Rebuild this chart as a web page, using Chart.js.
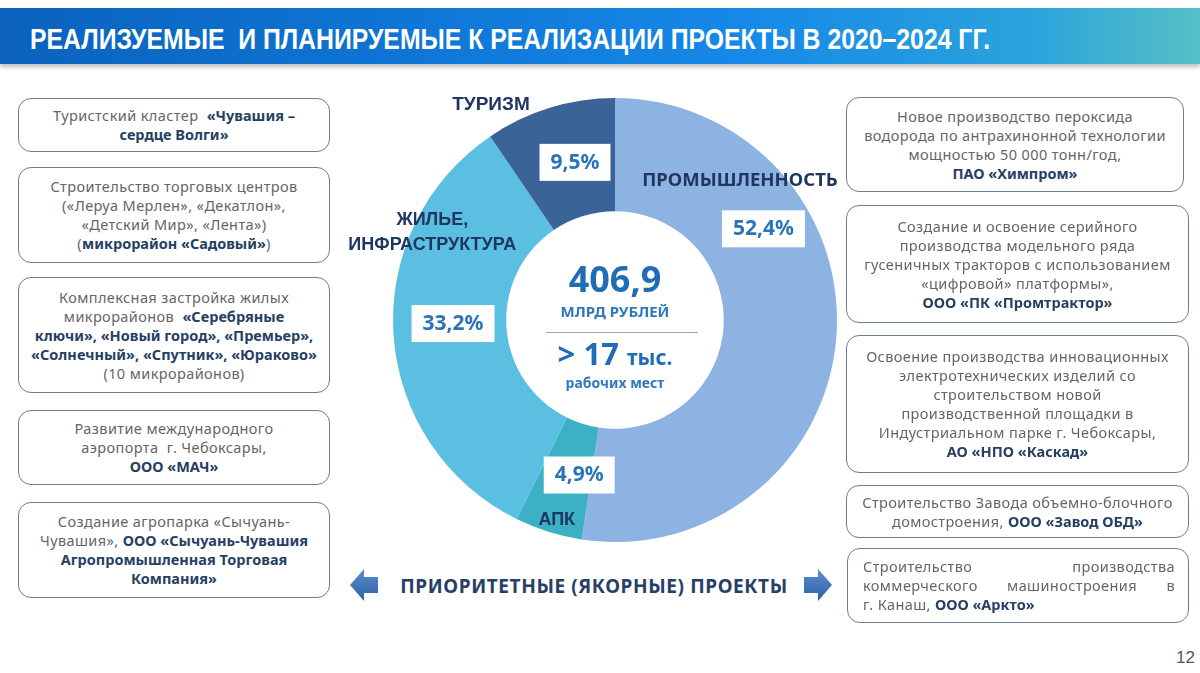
<!DOCTYPE html>
<html lang="ru">
<head>
<meta charset="utf-8">
<script src="https://cdn.jsdelivr.net/npm/chart.js@4.4.0/dist/chart.umd.min.js"></script>
<style>
  body { margin: 0; width: 1200px; height: 673px; background: #fff; position: relative; overflow: hidden; font-family: "Noto Sans", sans-serif; }
  #header { position: absolute; left: 0; top: 8px; width: 1200px; height: 56px;
    background: linear-gradient(90deg, #0a62bd 0%, #0f76d6 35%, #1689e8 62%, #2ba3dc 86%, #55c0c6 100%);
    box-shadow: 0 3px 4px rgba(0,0,0,0.25); }
  #title { position: absolute; left: 30px; top: 24px; color: #fff; font: bold 30px/30px "Liberation Sans", Arial, sans-serif;
    white-space: nowrap; transform-origin: left center; }
  .box { position: absolute; box-sizing: border-box; border: 1.5px solid #6e7c90; border-radius: 13px;
    display: flex; align-items: center; justify-content: center; text-align: center;
    color: #656565; font-size: 14.5px; line-height: 19px; letter-spacing: 0.4px; white-space: nowrap; background: #fff; z-index: 2; }
  .box b { color: #263f63; letter-spacing: 0; }
  .just { display: block; text-align: justify; text-align-last: justify; }
  #chartWrap { position: absolute; left: 335px; top: 70px; width: 560px; height: 500px; z-index: 1; }
  .ctr { position: absolute; left: 515px; width: 200px; text-align: center; font-weight: bold; white-space: nowrap; z-index: 3; }
  #sep { position: absolute; left: 546px; top: 332px; width: 152px; height: 1px; background: #9aa5b1; z-index: 3; }
  #bottom { position: absolute; left: 384px; top: 575px; width: 420px; text-align: center; font: bold 19px/22px "Noto Sans", sans-serif; letter-spacing: 0.6px; color: #283f66; white-space: nowrap; }
  .arrow { position: absolute; top: 569px; width: 28px; height: 32px; }
  #page { position: absolute; left: 1176px; top: 648px; font: 17px "Liberation Sans", Arial, sans-serif; color: #555; }
</style>
</head>
<body>
<div id="header"></div>
<div id="title">РЕАЛИЗУЕМЫЕ&nbsp; И ПЛАНИРУЕМЫЕ К РЕАЛИЗАЦИИ ПРОЕКТЫ В 2020–2024 ГГ.</div>

<div class="box" style="left:18px;top:98px;width:312px;height:54px;"><div>Туристский кластер&nbsp; <b>«Чувашия –</b><br><b>сердце Волги»</b></div></div>
<div class="box" style="left:18px;top:167px;width:312px;height:96px;"><div>Строительство торговых центров<br>(«Леруа Мерлен», «Декатлон»,<br>«Детский Мир», «Лента»)<br>(<b>микрорайон «Садовый»</b>)</div></div>
<div class="box" style="left:18px;top:277px;width:312px;height:116px;"><div>Комплексная застройка жилых<br>микрорайонов&nbsp; <b>«Серебряные</b><br><b>ключи», «Новый город», «Премьер»,</b><br><b>«Солнечный», «Спутник», «Юраково»</b><br>(10 микрорайонов)</div></div>
<div class="box" style="left:18px;top:410px;width:312px;height:75px;"><div>Развитие международного<br>аэропорта&nbsp; г. Чебоксары,<br><b>ООО «МАЧ»</b></div></div>
<div class="box" style="left:18px;top:502px;width:312px;height:96px;"><div>Создание агропарка «Сычуань-<br>Чувашия», <b>ООО «Сычуань-Чувашия</b><br><b>Агропромышленная Торговая</b><br><b>Компания»</b></div></div>

<div class="box" style="left:846px;top:97px;width:338px;height:95px;"><div>Новое производство пероксида<br>водорода по антрахинонной технологии<br>мощностью 50 000 тонн/год,<br><b>ПАО «Химпром»</b></div></div>
<div class="box" style="left:846px;top:205px;width:343px;height:118px;"><div>Создание и освоение серийного<br>производства модельного ряда<br>гусеничных тракторов с использованием<br>«цифровой» платформы»,<br><b>ООО «ПК «Промтрактор»</b></div></div>
<div class="box" style="left:846px;top:335px;width:343px;height:138px;"><div>Освоение производства инновационных<br>электротехнических изделий со<br>строительством новой<br>производственной площадки в<br>Индустриальном парке г. Чебоксары,<br><b>АО «НПО «Каскад»</b></div></div>
<div class="box" style="left:846px;top:485px;width:343px;height:53px;"><div>Строительство Завода объемно-блочного<br>домостроения, <b>ООО «Завод ОБД»</b></div></div>
<div class="box" style="left:847px;top:548px;width:342px;height:75px;justify-content:flex-start;text-align:left;padding:0 13px 0 15px;">
  <div style="width:100%;"><span class="just">Строительство производства</span><span class="just">коммерческого машиностроения в</span><span>г. Канаш, <b>ООО «Аркто»</b></span></div></div>

<div id="chartWrap"><canvas id="donut"></canvas></div>

<div class="ctr" style="top:261px;font-size:36px;line-height:36px;color:#1f6db6;">406,9</div>
<div class="ctr" style="top:304px;font-size:15px;line-height:15px;color:#2e78bd;">МЛРД РУБЛЕЙ</div>
<div id="sep"></div>
<div class="ctr" style="top:338px;font-size:31px;line-height:31px;color:#1f6db6;">&gt; 17 <span style="font-size:21px;">тыс.</span></div>
<div class="ctr" style="top:376px;font-size:14px;line-height:14px;color:#2e78bd;">рабочих мест</div>

<svg class="arrow" style="left:350px;" viewBox="0 0 28 32">
  <defs><linearGradient id="ga" x1="0" y1="0" x2="0" y2="1"><stop offset="0" stop-color="#5a8fd0"/><stop offset="1" stop-color="#2f5fa3"/></linearGradient></defs>
  <polygon points="0,16 14,0 14,8 28,8 28,24 14,24 14,32" fill="url(#ga)"/>
</svg>
<div id="bottom">ПРИОРИТЕТНЫЕ (ЯКОРНЫЕ) ПРОЕКТЫ</div>
<svg class="arrow" style="left:804px;" viewBox="0 0 28 32">
  <polygon points="28,16 14,0 14,8 0,8 0,24 14,24 14,32" fill="url(#ga)"/>
</svg>
<div id="page">12</div>

<script>
// данные диаграммы
const categories = ["ПРОМЫШЛЕННОСТЬ", "АПК", ["ЖИЛЬЕ,", "ИНФРАСТРУКТУРА"], "ТУРИЗМ"];
const shares = [52.4, 4.9, 33.2, 9.5];
const shareLabels = ["52,4%", "4,9%", "33,2%", "9,5%"];

const colors = ["#8db3e2", "#3cb0c5", "#5bbfe2", "#3a6398"];
// где внутри сектора ставить подписи: [доля угла, доля толщины кольца]
const pctPos = [[0.309, 0.58], [0.25, 0.44], [0.524, 0.47], [0.585, 0.48]];
const namePos = [[0.2225, 0.69], [0.43, 0.88], [0.748, 0.83], [0.123, 1.23]];
const nameFonts = ['bold 18.5px "Noto Sans"', 'bold 18px "Liberation Sans"', 'bold 18px "Liberation Sans"', 'bold 19px "Liberation Sans"'];

// подгоняем заголовок по ширине
const title = document.getElementById("title");
title.style.transform = "scaleX(" + (960 / title.scrollWidth) + ")";

function pointOn(arc, t, rf) {
    const a = arc.startAngle + t * (arc.endAngle - arc.startAngle);
    const r = arc.innerRadius + rf * (arc.outerRadius - arc.innerRadius);
    return { x: arc.x + Math.cos(a) * r, y: arc.y + Math.sin(a) * r };
}

const labelPlugin = {
    id: "sliceLabels",
    afterDatasetsDraw(chart) {
        const ctx = chart.ctx;
        const arcs = chart.getDatasetMeta(0).data;
        ctx.save();
        ctx.textAlign = "center";
        ctx.textBaseline = "middle";
        arcs.forEach(function(arc, i) {
            // проценты в белых плашках
            const p = pointOn(arc, pctPos[i][0], pctPos[i][1]);
            ctx.font = 'bold 21px "Noto Sans"';
            const w = ctx.measureText(shareLabels[i]).width + 22;
            ctx.fillStyle = "#fff";
            ctx.fillRect(p.x - w / 2, p.y - 18, w, 37);
            ctx.fillStyle = "#2b74b8";
            ctx.fillText(shareLabels[i], p.x, p.y + 1);

            // названия отраслей
            const n = pointOn(arc, namePos[i][0], namePos[i][1]);
            const lines = [].concat(chart.data.labels[i]);
            ctx.font = nameFonts[i];
            ctx.fillStyle = "#1f3760";
            lines.forEach(function(line, k) {
                ctx.fillText(line, n.x, n.y + (k - (lines.length - 1) / 2) * 25);
            });
        });
        ctx.restore();
    }
};

new Chart(document.getElementById("donut"), {
    type: "doughnut",
    data: {
        labels: categories,
        datasets: [{
            data: shares,
            backgroundColor: colors,
            borderWidth: 0
        }]
    },
    options: {
        responsive: true,
        maintainAspectRatio: false,
        animation: false,
        cutout: "49%",
        layout: { padding: 28 },
        plugins: { legend: { display: false }, tooltip: { enabled: false } }
    },
    plugins: [labelPlugin]
});
</script>
</body>
</html>
